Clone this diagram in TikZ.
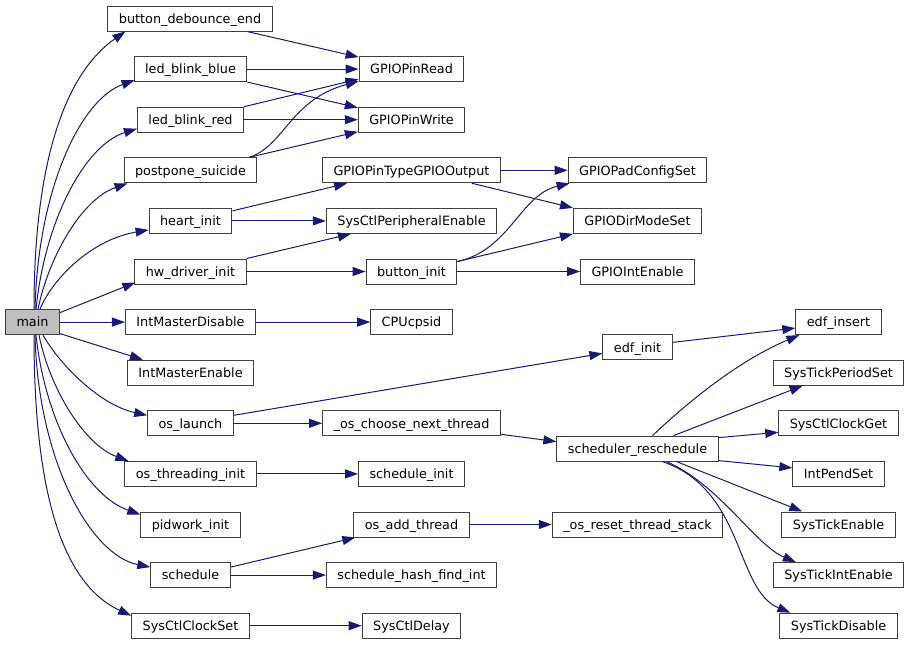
\documentclass[tikz,border=0pt]{standalone}
\usepackage{fontspec}
\setmainfont{DejaVu Sans}
\usetikzlibrary{arrows.meta}

\definecolor{callblue}{RGB}{25,25,112}
\definecolor{fnborder}{RGB}{64,64,64}
\definecolor{fnmain}{RGB}{191,191,191}

\begin{document}
\begin{tikzpicture}[
    x=1pt, y=-1pt,
    fn/.style={draw=fnborder, line width=1pt, fill=white, minimum height=25pt, inner xsep=11pt, inner ysep=0pt,
      text height=9.4pt, text depth=0pt, font=\fontsize{12.8pt}{15pt}\selectfont},
    call/.style={draw=callblue, line width=1pt, -{Triangle[length=13pt, width=9pt]}}
  ]
  \useasboundingbox (0,0) rectangle (909,645);

  \node[fn, fill=fnmain] (main) at (32.5,322.1) {main};

  % callees of main
  \node[fn] (dbnc) at (190,18.5) {button\_debounce\_end};
  \node[fn] (blue) at (190.5,69.1) {led\_blink\_blue};
  \node[fn] (red) at (190.5,119.7) {led\_blink\_red};
  \node[fn] (suicide) at (190.5,170.3) {postpone\_suicide};
  \node[fn] (heart) at (190.5,220.9) {heart\_init};
  \node[fn] (hwdrv) at (190.5,271.5) {hw\_driver\_init};
  \node[fn] (imd) at (190.5,322.1) {IntMasterDisable};
  \node[fn] (ime) at (190.5,372.7) {IntMasterEnable};
  \node[fn] (launch) at (190.5,423.3) {os\_launch};
  \node[fn] (thrinit) at (190.5,473.9) {os\_threading\_init};
  \node[fn] (pidw) at (190.5,524.5) {pidwork\_init};
  \node[fn] (sched) at (190.5,575.1) {schedule};
  \node[fn] (clkset) at (190.5,625.7) {SysCtlClockSet};

  \node[fn] (pinread) at (411.5,69.1) {GPIOPinRead};
  \node[fn] (pinwrite) at (411.5,119.7) {GPIOPinWrite};
  \node[fn] (pintype) at (411.5,170.3) {GPIOPinTypeGPIOOutput};
  \node[fn] (periph) at (411.5,220.9) {SysCtlPeripheralEnable};
  \node[fn] (btn) at (411.5,271.5) {button\_init};
  \node[fn] (cpsid) at (411.5,322.1) {CPUcpsid};
  \node[fn] (choose) at (411.5,423.3) {\_os\_choose\_next\_thread};
  \node[fn] (schinit) at (411.5,473.9) {schedule\_init};
  \node[fn] (addthr) at (411.5,524.5) {os\_add\_thread};
  \node[fn] (hashfind) at (411.5,575.1) {schedule\_hash\_find\_int};
  \node[fn] (delay) at (411.5,625.7) {SysCtlDelay};

  \node[fn] (padcfg) at (637.5,170.3) {GPIOPadConfigSet};
  \node[fn] (dirmode) at (637.5,220.9) {GPIODirModeSet};
  \node[fn] (intena) at (637.5,271.5) {GPIOIntEnable};
  \node[fn] (edfi) at (637.5,347.4) {edf\_init};
  \node[fn] (resched) at (637.5,448.6) {scheduler\_reschedule};
  \node[fn] (resetstk) at (637.5,524.5) {\_os\_reset\_thread\_stack};

  \node[fn] (edfins) at (838.5,322.1) {edf\_insert};
  \node[fn] (periodset) at (838.5,372.7) {SysTickPeriodSet};
  \node[fn] (clkget) at (838.5,423.3) {SysCtlClockGet};
  \node[fn] (pendset) at (838.5,473.9) {IntPendSet};
  \node[fn] (tickena) at (838.5,524.5) {SysTickEnable};
  \node[fn] (tickint) at (838.5,575.1) {SysTickIntEnable};
  \node[fn] (tickdis) at (838.5,625.7) {SysTickDisable};

  % main fans out
  \draw[call] ([xshift=1.5pt]main.north) .. controls (34,150) and (70,70) .. ([xshift=18pt]dbnc.south west);
  \draw[call] ([xshift=2.5pt]main.north) .. controls (38,190) and (80,100) .. ([xshift=1pt,yshift=2pt]blue.south west);
  \draw[call] ([xshift=3.5pt]main.north) .. controls (45,220) and (85,145) .. ([yshift=4pt]red.south west);
  \draw[call] ([xshift=5.5pt]main.north) .. controls (48,260) and (80,200) .. ([xshift=4pt]suicide.south west);
  \draw[call] ([xshift=7.5pt]main.north) .. controls (52,280) and (90,240) .. ([yshift=4pt]heart.south west);
  \draw[call] ([yshift=-3.5pt]main.north east) -- ([xshift=1pt,yshift=2pt]hwdrv.south west);
  \draw[call] (main.east) -- (imd.west);
  \draw[call] ([yshift=1.5pt]main.south east) -- ([xshift=16pt]ime.north west);
  \draw[call] ([xshift=10.5pt]main.south) .. controls (60,365) and (100,405) .. ([yshift=-5pt]launch.north west);
  \draw[call] ([xshift=6.5pt]main.south) .. controls (50,390) and (85,445) .. ([xshift=4pt]thrinit.north west);
  \draw[call] ([xshift=3.5pt]main.south) .. controls (45,420) and (85,495) .. ([yshift=-3pt]pidw.north west);
  \draw[call] ([xshift=2.5pt]main.south) .. controls (38,460) and (90,555) .. ([yshift=-5pt]sched.north west);
  \draw[call] ([xshift=1.5pt]main.south) .. controls (34,500) and (65,585) .. ([yshift=-3pt]clkset.north west);

  \draw[call] ([xshift=57pt]dbnc.south) -- ([yshift=-1pt]pinread.north west);
  \draw[call] (blue.east) -- (pinread.west);
  \draw[call] (blue.south east) -- ([yshift=-1pt]pinwrite.north west);
  \draw[call] (red.north east) -- ([yshift=3pt]pinread.south west);
  \draw[call] (red.east) -- (pinwrite.west);
  \draw[call] ([xshift=59pt]suicide.north) .. controls (285,145) and (290,100) .. ([yshift=1pt]pinread.south west);
  \draw[call] ([xshift=59pt]suicide.north) -- ([yshift=1pt]pinwrite.south west);
  \draw[call] ([yshift=-3pt]heart.north east) -- ([xshift=25pt]pintype.south west);
  \draw[call] (heart.east) -- (periph.west);
  \draw[call] (hwdrv.north east) -- ([xshift=25pt]periph.south west);
  \draw[call] (hwdrv.east) -- (btn.west);
  \draw[call] (imd.east) -- (cpsid.west);
  \draw[call] ([yshift=-5pt]launch.north east) -- ([yshift=7pt]edfi.south west);
  \draw[call] (launch.east) -- (choose.west);
  \draw[call] (thrinit.east) -- (schinit.west);
  \draw[call] ([yshift=-5pt]sched.north east) -- ([xshift=2pt]addthr.south west);
  \draw[call] (sched.east) -- (hashfind.west);
  \draw[call] (clkset.east) -- (delay.west);

  \draw[call] (pintype.east) -- (padcfg.west);
  \draw[call] ([xshift=-29pt]pintype.south east) -- (dirmode.north west);
  \draw[call] ([yshift=-3pt]btn.north east) .. controls (510,250) and (520,195) .. ([xshift=2pt]padcfg.south west);
  \draw[call] ([yshift=-3pt]btn.north east) -- (dirmode.south west);
  \draw[call] (btn.east) -- (intena.west);
  \draw[call] ([yshift=2pt]choose.south east) -- ([yshift=-6pt]resched.north west);
  \draw[call] (addthr.east) -- (resetstk.west);

  \draw[call] ([yshift=-8pt]edfi.north east) -- ([yshift=-6pt]edfins.west);
  \draw[call] ([xshift=15pt]resched.north) .. controls (690,400) and (740,360) .. ([xshift=4pt]edfins.south west);
  \draw[call] ([xshift=36pt]resched.north) -- ([xshift=30pt]periodset.south west);
  \draw[call] ([yshift=-2pt]resched.north east) -- ([yshift=-9pt]clkget.west);
  \draw[call] ([yshift=1pt]resched.south east) -- ([yshift=6pt]pendset.west);
  \draw[call] ([xshift=39pt]resched.south) -- ([xshift=21pt]tickena.north west);
  \draw[call] ([xshift=29pt]resched.south) .. controls (720,485) and (755,545) .. ([xshift=23pt]tickint.north west);
  \draw[call] ([xshift=25pt]resched.south) .. controls (745,490) and (735,590) .. ([xshift=11pt]tickdis.north west);

\end{tikzpicture}
\end{document}
